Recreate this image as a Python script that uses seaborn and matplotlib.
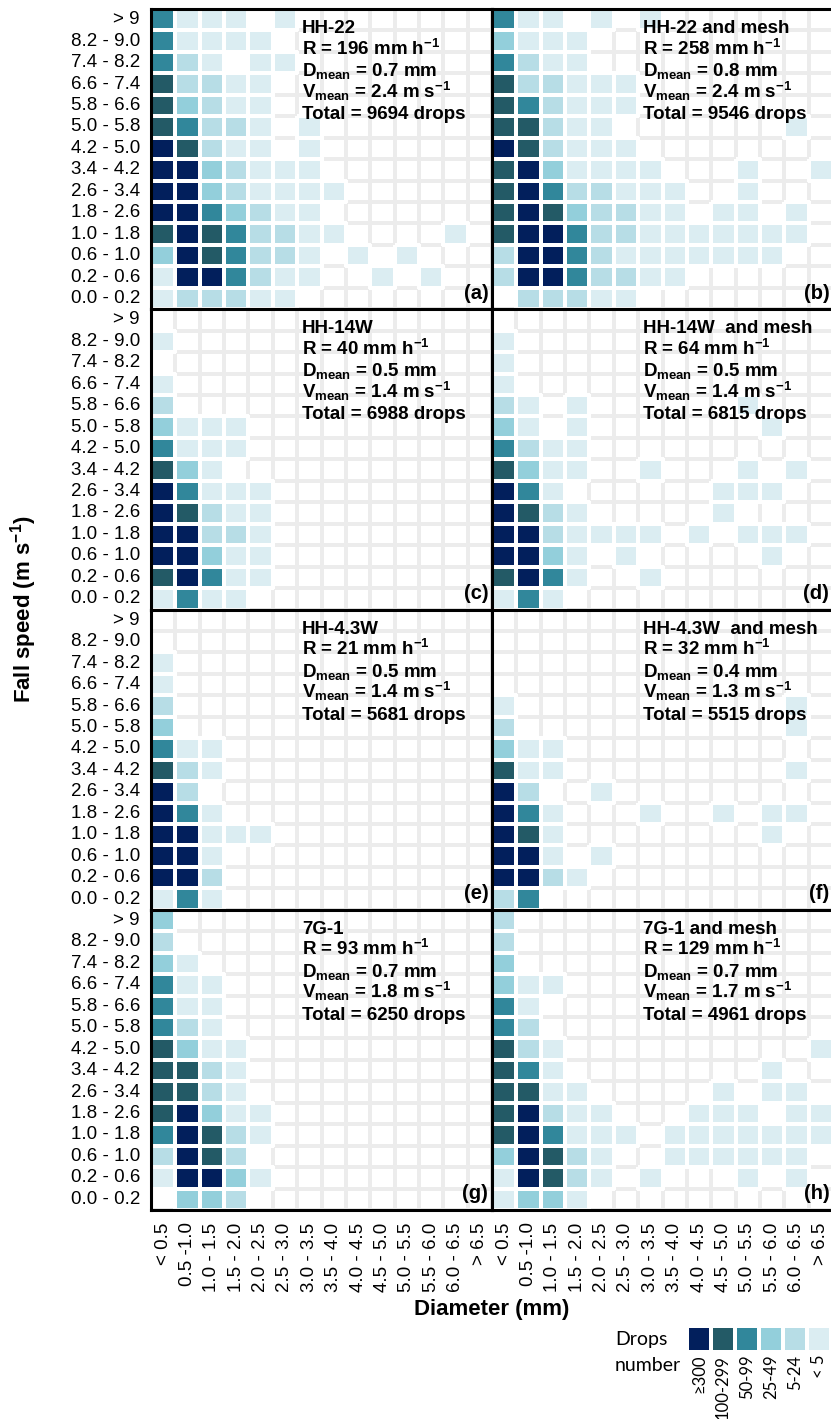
import numpy as np
import matplotlib
matplotlib.use("Agg")
import matplotlib.pyplot as plt
from matplotlib.colors import ListedColormap
import seaborn as sns

# ---------------------------------------------------------------- data
speed_bins = ["> 9", "8.2 - 9.0", "7.4 - 8.2", "6.6 - 7.4", "5.8 - 6.6",
              "5.0 - 5.8", "4.2 - 5.0", "3.4 - 4.2", "2.6 - 3.4", "1.8 - 2.6",
              "1.0 - 1.8", "0.6 - 1.0", "0.2 - 0.6", "0.0 - 0.2"]
diameter_bins = ["< 0.5", "0.5 -1.0", "1.0 - 1.5", "1.5 - 2.0", "2.0 - 2.5",
                 "2.5 - 3.0", "3.0 - 3.5", "3.5 - 4.0", "4.0 - 4.5", "4.5 - 5.0",
                 "5.0 - 5.5", "5.5 - 6.0", "6.0 - 6.5", "> 6.5"]

# drop-count classes: 0 none, 1 <5, 2 5-24, 3 25-49, 4 50-99, 5 100-299, 6 >=300
class_labels = ["\u2265300", "100-299", "50-99", "25-49", "5-24", "< 5"]
class_values = [6, 5, 4, 3, 2, 1]
class_colors = ["#ffffff", "#dbedf2", "#b7dde6", "#93cfdb",
                "#31879b", "#235a66", "#021f5c"]

# rows: fall-speed classes from "> 9" (top) to "0.0 - 0.2" (bottom)
# columns: diameter classes from "< 0.5" to "> 6.5"
hh22 = ["41110100000000", "41111000000000", "42101100000000", "52211000000000",
        "53211000000000", "54221010000000", "65211010000000", "66321110000000",
        "66321111000000", "66432110000000", "56542211000010", "36542210101000",
        "16642110010100", "12221100000000"]
hh22_mesh = ["41101010000000", "31110000000000", "42110000000000", "52211100000000",
             "54211100000000", "55211000000010", "65211100000000", "56311110001001",
             "56422111001000", "56532211011010", "56642211111110", "26642111111100",
             "26642211000000", "02221100000000"]
hh14w = ["00000000000000", "10000000000000", "00000000000000", "10000000000000",
         "20000000000000", "31110000000000", "41110000000000", "53100000000000",
         "64111000000000", "65211000000000", "66221000000000", "66311000000000",
         "56411000000000", "14110000000000"]
hh14w_mesh = ["00000000000000", "10000000000000", "10000000000000", "10000000000000",
              "21010000001000", "31010000000100", "42110000000000", "53110010001010",
              "64100000011100", "65210000010000", "66211110101110", "66310100000100",
              "56410010000000", "14100000000000"]
hh43w = ["00000000000000", "00000000000000", "10000000000000", "10000000000000",
         "20000000000000", "30000000000000", "41100000000000", "52100000000000",
         "62000000000000", "64100000000000", "66111000000000", "66100000000000",
         "66200000000000", "14100000000000"]
hh43w_mesh = ["00000000000000", "00000000000000", "00000000000000", "00000000000000",
              "10000000000010", "20000000000010", "31100000000000", "51100000000010",
              "62001000000000", "64100010010110", "65100000000100", "66101000000000",
              "66210000000000", "24000000000000"]
g71 = ["30000000000000", "20000000000000", "31000000000000", "41100000000000",
       "41100000000000", "42100000000000", "53110000000000", "55210000000000",
       "55210000000000", "56311000000000", "46521000000000", "26520000000000",
       "16631000000000", "03320000000000"]
g71_mesh = ["20000000000000", "20000000000000", "30000000000000", "31100000000000",
            "41000000000000", "42000000000000", "52100000000001", "54100000000100",
            "55110000010110", "56211000111011", "56411101111111", "36521001111110",
            "16521010001010", "13310000000000"]

panel_grids = [hh22, hh22_mesh, hh14w, hh14w_mesh, hh43w, hh43w_mesh, g71, g71_mesh]
panel_names = ["HH-22", "HH-22 and mesh", "HH-14W", "HH-14W  and mesh",
               "HH-4.3W", "HH-4.3W  and mesh", "7G-1", "7G-1 and mesh"]
rain_rate = [196, 258, 40, 64, 21, 32, 93, 129]
d_mean = [0.7, 0.8, 0.5, 0.5, 0.5, 0.4, 0.7, 0.7]
v_mean = [2.4, 2.4, 1.4, 1.4, 1.4, 1.3, 1.8, 1.7]
total_drops = [9694, 9546, 6988, 6815, 5681, 5515, 6250, 4961]
panel_letters = ["(a)", "(b)", "(c)", "(d)", "(e)", "(f)", "(g)", "(h)"]

# ---------------------------------------------------------------- style
sns.set_style("white")
plt.rcParams["font.family"] = ["Liberation Sans", "DejaVu Sans"]
plt.rcParams["text.color"] = "black"
plt.rcParams["xtick.color"] = "black"
plt.rcParams["ytick.color"] = "black"
plt.rcParams["mathtext.fontset"] = "custom"
plt.rcParams["mathtext.rm"] = "Liberation Sans"
plt.rcParams["mathtext.bf"] = "Liberation Sans:bold"
plt.rcParams["mathtext.default"] = "bf"

W, H = 831, 1419
fig = plt.figure(figsize=(W / 100, H / 100), dpi=100)


def add_axes_px(x, top, w, h):
    return fig.add_axes([x / W, 1 - (top + h) / H, w / W, h / H])


class_cmap = ListedColormap(class_colors)
col_left = [151, 492]
panel_w = 341
panel_h = 300.25
row_top = [9 + i * panel_h for i in range(4)]

for k, rows in enumerate(panel_grids):
    grid = np.array([[int(ch) for ch in r] for r in rows])
    r, c = divmod(k, 2)
    ax = add_axes_px(col_left[c], row_top[r], panel_w, panel_h)
    xtl = diameter_bins if r == 3 else False
    ytl = speed_bins if c == 0 else False

    # empty lattice with light grey separators
    sns.heatmap(np.zeros(grid.shape), ax=ax, cmap=ListedColormap(["white"]),
                cbar=False, linewidths=1.5, linecolor="#ececec",
                xticklabels=xtl, yticklabels=ytl)
    # coloured drop-count classes
    sns.heatmap(grid, mask=(grid == 0), ax=ax, cmap=class_cmap,
                vmin=-0.5, vmax=6.5, cbar=False, linewidths=1.5, linecolor="white",
                xticklabels=xtl, yticklabels=ytl)
    mesh = ax.collections[-1]
    filled = (grid.ravel() > 0)[:, None]
    mesh.set_edgecolor(np.where(filled, [1, 1, 1, 1], [0, 0, 0, 0]).astype(float))

    ax.tick_params(length=0)
    if c == 0:
        ax.tick_params(axis="y", pad=8)
        for t in ax.get_yticklabels():
            t.set_rotation(0)
            t.set_fontsize(13.5)
    if r == 3:
        ax.tick_params(axis="x", pad=9)
        for t in ax.get_xticklabels():
            t.set_rotation(90)
            t.set_fontsize(13.5)

    for sp in ax.spines.values():
        sp.set_visible(True)
        sp.set_color("black")
        sp.set_linewidth(2.2)

    lines = [panel_names[k],
             f"R = {rain_rate[k]} mm h$^{{-1}}$",
             f"D$_{{mean}}$ = {d_mean[k]} mm",
             f"V$_{{mean}}$ = {v_mean[k]} m s$^{{-1}}$",
             f"Total = {total_drops[k]} drops"]
    for i, s in enumerate(lines):
        ax.text(6.2, 1.13 + i, s, fontsize=13.5, fontweight="bold",
                ha="left", va="baseline")
    ax.text(13.85, 13.5, panel_letters[k], fontsize=14.5, fontweight="bold",
            ha="right", va="baseline")

fig.text(24 / W, 1 - 609 / H, "Fall speed (m s$^{-1}$)", rotation=90,
         fontsize=16, fontweight="bold", ha="center", va="center")
fig.text(492 / W, 1 - 1310 / H, "Diameter (mm)", fontsize=16,
         fontweight="bold", ha="center", va="center")

# ---------------------------------------------------------------- legend
lax = add_axes_px(687, 1326, 144, 26)
sns.heatmap(np.array([class_values]), ax=lax, cmap=class_cmap, vmin=-0.5, vmax=6.5,
            cbar=False, linewidths=1.5, linecolor="white",
            xticklabels=class_labels, yticklabels=False)
lax.tick_params(length=0, pad=2)
for t in lax.get_xticklabels():
    t.set_rotation(90)
    t.set_fontsize(12)
    t.set_family(["Lato", "DejaVu Sans"])
fig.text(615 / W, 1 - 1345 / H, "Drops", fontsize=14, family=["Lato", "DejaVu Sans"],
         ha="left", va="baseline")
fig.text(615 / W, 1 - 1371 / H, "number", fontsize=14, family=["Lato", "DejaVu Sans"],
         ha="left", va="baseline")

fig.savefig("out.png", dpi=100)
